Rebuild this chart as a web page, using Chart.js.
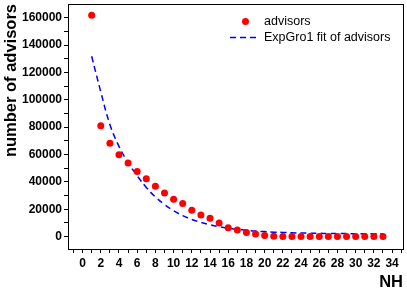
<!DOCTYPE html>
<html>
<head>
<meta charset="utf-8">
<script src="https://cdn.jsdelivr.net/npm/chart.js@4.4.1/dist/chart.umd.min.js"></script>
<style>
  body { margin: 0; background: #fff; }
  #wrap { position: relative; width: 407px; height: 292px; }
  #legend { position: absolute; left: 228px; top: 13px; font-family: "Liberation Sans", Arial, sans-serif; font-size: 12.5px; color: #000; }
  .row { position: relative; height: 16px; line-height: 16px; padding-left: 36px; white-space: nowrap; }
  .dot { position: absolute; left: 14px; top: 5px; width: 7px; height: 7px; border-radius: 50%; background: #ff0000; }
  .dash { position: absolute; left: 2px; top: 7px; }
</style>
</head>
<body>
<div id="wrap">
  <canvas id="myChart" width="407" height="292"></canvas>
  <div id="legend">
    <div class="row"><span class="dot"></span>advisors</div>
    <div class="row"><svg class="dash" width="30" height="3"><line x1="0" y1="1.5" x2="30" y2="1.5" stroke="#0000ff" stroke-width="1.5" stroke-dasharray="6,4"/></svg>ExpGro1 fit of advisors</div>
  </div>
</div>
<script>
// NH values
var nh = [1, 2, 3, 4, 5, 6, 7, 8, 9, 10, 11, 12, 13, 14, 15, 16, 17,
          18, 19, 20, 21, 22, 23, 24, 25, 26, 27, 28, 29, 30, 31, 32, 33];
// measured advisors
var advisors = [161700, 81100, 68300, 59800, 53900, 47600, 42300, 36800, 32000, 27400,
                24300, 19400, 15800, 13500, 10000, 6600, 4900, 3100, 1900, 900,
                400, 200, 150, 100, 100, 100, 100, 100, 100, 100, 100, 100, 100];
// ExpGro1 fit
var fit = [131800, 105900, 82000, 66000, 54100, 44500, 36000, 29000, 23500, 19000,
           15400, 12600, 10400, 8700, 7300, 6200, 5300, 4700, 4100, 3700,
           3300, 3100, 2850, 2700, 2550, 2450, 2350, 2300, 2250, 2200, 2150, 2100, 2100];
// y ticks (labels on every other one)
var yTicks = [0, 10000, 20000, 30000, 40000, 50000, 60000, 70000, 80000,
              90000, 100000, 110000, 120000, 130000, 140000, 150000, 160000];

function toXY(xs, ys) {
    var out = [];
    for (let i = 0; i < xs.length; i++) {
        out.push({ x: xs[i], y: ys[i] });
    }
    return out;
}

function noPad(s) {
    s.paddingTop = 0;
    s.paddingBottom = 0;
    s.paddingLeft = 0;
    s.paddingRight = 0;
}

var frame = {
    id: 'frame',
    afterDraw: function (chart) {
        var a = chart.chartArea;
        var ctx = chart.ctx;
        ctx.save();
        ctx.strokeStyle = '#000';
        ctx.lineWidth = 1;
        ctx.strokeRect(a.left + 0.5, a.top + 0.5, a.right - a.left, a.bottom - a.top);
        ctx.restore();
    }
};

var tickFont = { family: '"Liberation Sans", Arial, sans-serif', size: 12, weight: 'bold' };
var titleFont = { family: '"Liberation Sans", Arial, sans-serif', size: 16.5, weight: 'bold' };

new Chart(document.getElementById('myChart'), {
    type: 'scatter',
    data: {
        datasets: [{
            label: 'advisors',
            data: toXY(nh, advisors),
            backgroundColor: '#ff0000',
            borderWidth: 0,
            pointRadius: 3.5,
            order: 1
        }, {
            label: 'ExpGro1 fit of advisors',
            type: 'line',
            data: toXY(nh, fit),
            borderColor: '#0000ff',
            borderWidth: 1.5,
            borderDash: [6, 4],
            pointRadius: 0,
            tension: 0.4,
            fill: false,
            order: 2
        }]
    },
    options: {
        responsive: false,
        animation: false,
        layout: { padding: { top: 1, right: 4, left: 0, bottom: 0 } },
        plugins: { legend: { display: false }, tooltip: { enabled: false } },
        scales: {
            x: {
                type: 'linear',
                min: -1.6,
                max: 35.2,
                afterFit: function (s) { s.height = 43; noPad(s); },
                ticks: {
                    stepSize: 1,
                    includeBounds: false,
                    autoSkip: false,
                    maxRotation: 0,
                    padding: 3,
                    color: '#000',
                    font: tickFont,
                    callback: function (v) { return v % 2 === 0 ? v : ''; }
                },
                grid: { drawOnChartArea: false, tickLength: 4, color: '#000' },
                border: { color: '#000' },
                title: { display: true, text: 'NH', align: 'end', color: '#000', font: titleFont, padding: { top: 0, bottom: 0 } }
            },
            y: {
                min: -9000,
                max: 170000,
                afterFit: function (s) { s.width = 68; noPad(s); },
                afterBuildTicks: function (s) {
                    s.ticks = yTicks.map(function (v) { return { value: v }; });
                },
                ticks: {
                    autoSkip: false,
                    padding: 2,
                    color: '#000',
                    font: tickFont,
                    callback: function (v) { return v % 20000 === 0 ? v : ''; }
                },
                grid: { drawOnChartArea: false, tickLength: 4, color: '#000' },
                border: { color: '#000' },
                title: { display: true, text: 'number of advisors', align: 'end', color: '#000', font: titleFont, padding: { top: 2, bottom: 0 } }
            }
        }
    },
    plugins: [frame]
});
</script>
</body>
</html>
